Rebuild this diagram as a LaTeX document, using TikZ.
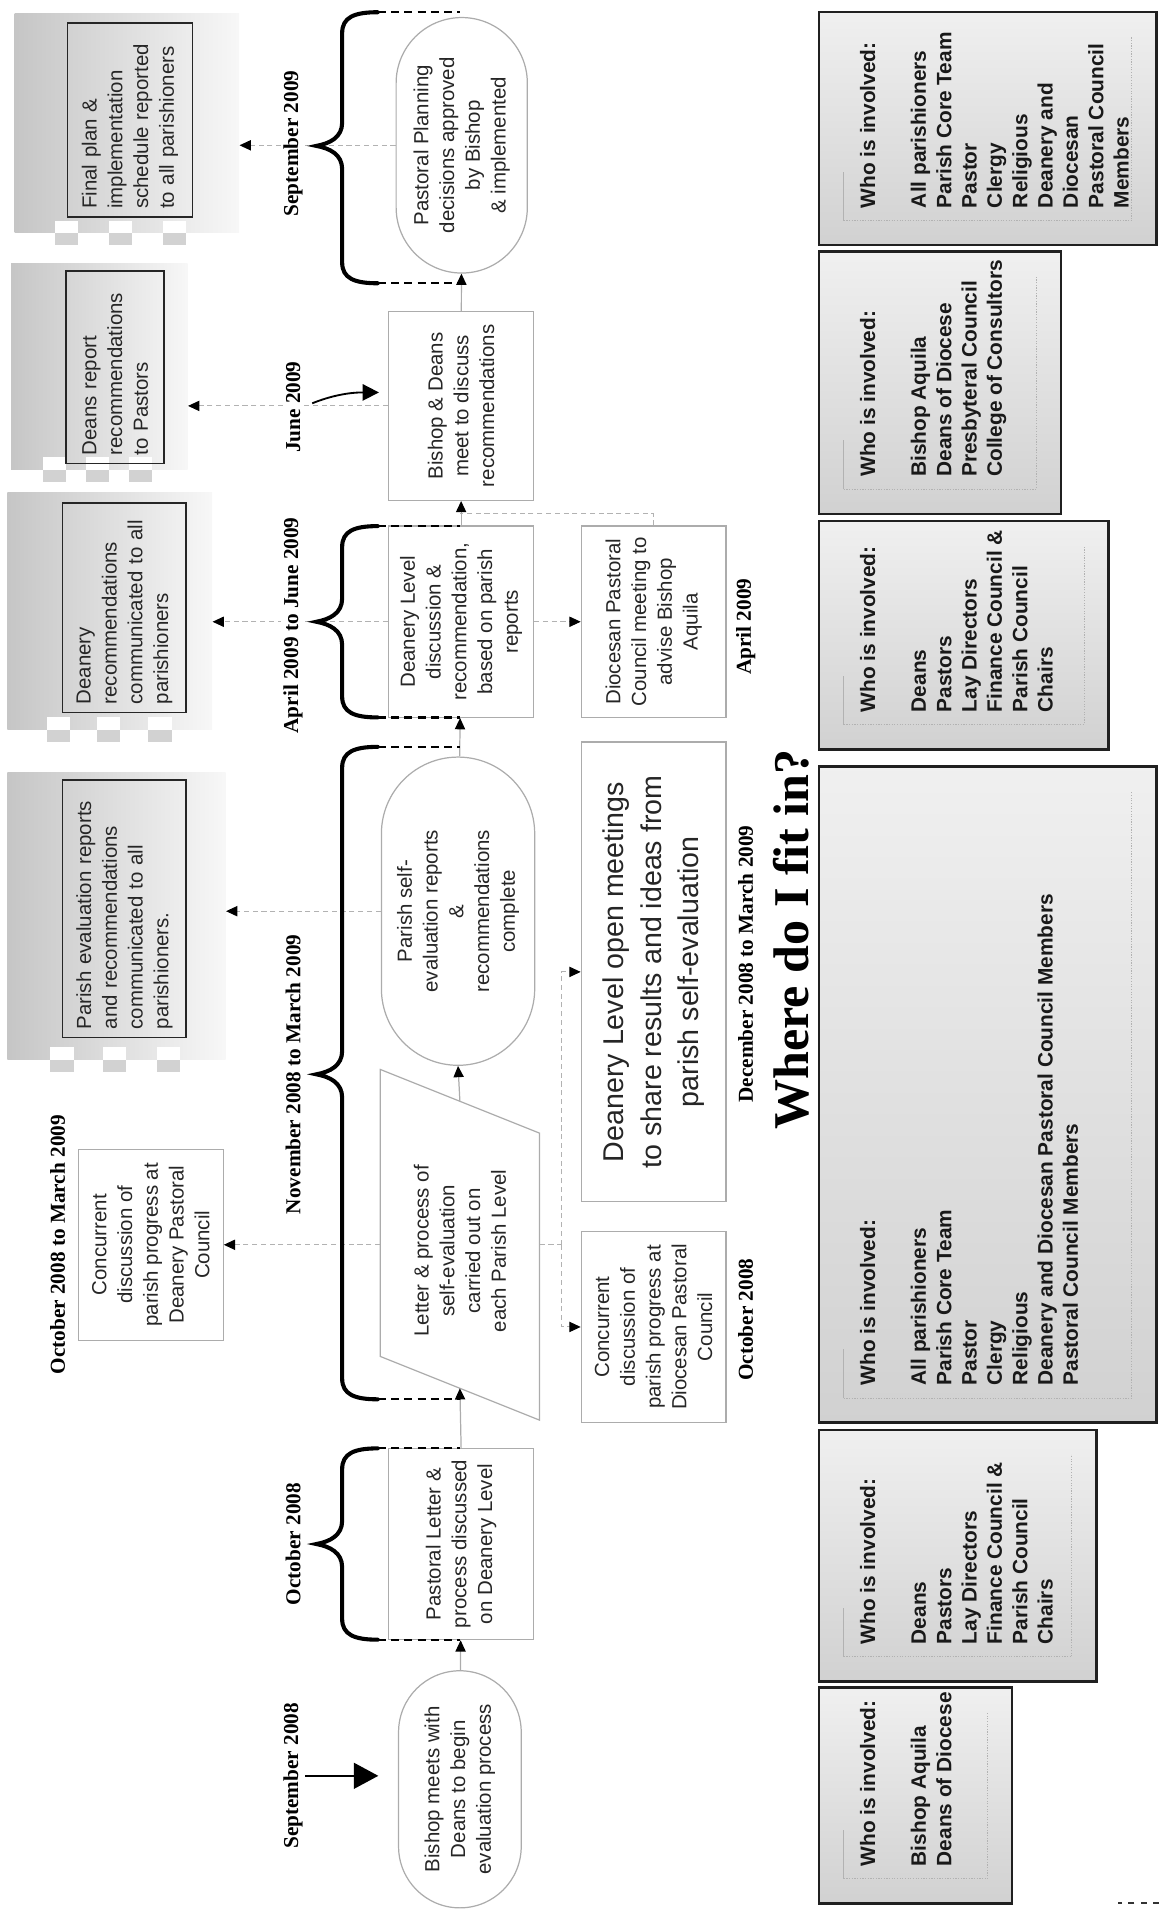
\documentclass[tikz,border=0pt]{standalone}
\usepackage{fontspec}
\setmainfont{Liberation Serif}
\setsansfont{Liberation Sans}
\usetikzlibrary{arrows.meta}
\usetikzlibrary{shapes.misc}
\usetikzlibrary{positioning}
\tikzset{flowbox/.style = {draw=gray!65, line width=0.6pt, fill=white, align=center,
                           inner sep=2pt, text=black!85,
                           font=\sffamily\fontsize{10}{12.6}\selectfont}}
\tikzset{flowrect/.style = {flowbox, rectangle, minimum width=93.6pt, minimum height=70.8pt}}
\tikzset{flowround/.style = {flowbox, rounded rectangle}}
\tikzset{datelbl/.style = {font=\bfseries\fontsize{10.4}{12}\selectfont, fill=white, inner sep=1pt}}
\tikzset{flowarrow/.style = {draw=gray!65, line width=0.6pt,
                             -{Triangle[length=5.5pt, width=5pt, color=black]}}}
\tikzset{dashline/.style = {draw=gray!60, line width=0.5pt, dash pattern=on 2.5pt off 1.8pt}}
\tikzset{dasharrow/.style = {dashline, -{Triangle[length=5.5pt, width=5pt, color=black]}}}
\tikzset{bigarrow/.style = {draw=black, line width=1.2pt, -{Triangle[length=12pt, width=12.6pt]}}}
\tikzset{junearrow/.style = {draw=black, line width=0.9pt, -{Triangle[length=8pt, width=8pt]}}}
\tikzset{bracestyle/.style = {draw=black, line width=2pt, line cap=round}}
\tikzset{bracedash/.style = {draw=black, line width=1.1pt, dash pattern=on 4pt off 2.5pt}}
\tikzset{panelbg/.style = {left color=gray!45, middle color=gray!30, right color=gray!6, inner sep=0}}
\tikzset{panelbox/.style = {draw=black!85, line width=0.9pt, align=left, inner xsep=4pt,
                            font=\sffamily\fontsize{10}{12.6}\selectfont, text=black!85}}
\tikzset{whobox/.style = {draw=gray!25!black, line width=1.2pt, top color=gray!12,
                          bottom color=gray!36, inner sep=0}}
\tikzset{whotext/.style = {anchor=north west, align=left, inner sep=0, text=black!90,
                           font=\sffamily\bfseries\fontsize{10.2}{12.4}\selectfont}}
\tikzset{whosolid/.style = {draw=gray!60, line width=0.6pt}}
\tikzset{whodots/.style = {draw=gray!60, line width=0.5pt, dash pattern=on 0.6pt off 0.7pt}}
\newcommand{\timebrace}[3]{%
  \draw[bracestyle] (#1,637) .. controls (#1,656) and (#1+4,666) .. (#1+17,666)
    -- (#3-19,666) .. controls (#3-7,666) and (#3-2,676) .. (#3,687)
    .. controls (#3+2,676) and (#3+7,666) .. (#3+19,666)
    -- (#2-17,666) .. controls (#2-4,666) and (#2,656) .. (#2,637);
  \draw[bracedash] (#1,637) -- (#1,570);
  \draw[bracedash] (#2,637) -- (#2,570);}

\begin{document}
\begin{tikzpicture}[x=0.6pt, y=0.6pt]
\begin{scope}[rotate=90, transform shape]
\useasboundingbox (0,0) rectangle (1568,945);

% communication panels
\node (p1) [panelbg, minimum width=107.4pt, minimum height=109.8pt] at (1467.5,841.5) {};
\node (p2) [panelbg, minimum width=100.8pt, minimum height=86.4pt] at (1269,864) {};
\node (p3) [panelbg, minimum width=115.8pt, minimum height=100.2pt] at (1069.5,855.5) {};
\node (p4) [panelbg, minimum width=140.4pt, minimum height=106.8pt] at (821,850) {};
\foreach \pl/\ya/\yb/\yc in {1378/881/837/793, 1185/891/856/821, 973/888/847/805, 704/885/842/798} {
  \foreach \sq in {\ya,\yb,\yc} {
    \fill[white] (\pl,\sq) rectangle ++(10,19);
    \fill[gray!35] (\pl-10,\sq) rectangle ++(10,19);
  }
}
\node (p1in) [panelbox, text width=86.8pt, minimum height=61.2pt] at (1470,839)
  {Final plan \&\\implementation\\schedule reported\\to all parishioners};
\node (p2in) [panelbox, text width=86.2pt, minimum height=48pt] at (1268.5,851)
  {Deans report\\recommendations\\to Pastors};
\node (p3in) [panelbox, text width=94.6pt, minimum height=60.6pt] at (1072.5,843.5)
  {Deanery\\recommendations\\communicated to all\\parishioners};
\node (p4in) [panelbox, text width=118pt, minimum height=60.6pt] at (827,843.5)
  {Parish evaluation reports\\and recommendations\\communicated to all\\parishioners.};

% who is involved
\node (who1) [whobox, minimum width=114pt, minimum height=165pt] at (1463,139.5) {};
\node (who2) [whobox, minimum width=128.4pt, minimum height=118.2pt] at (1256,178.5) {};
\node (who3) [whobox, minimum width=111.6pt, minimum height=141.6pt] at (1050,159) {};
\node (who4) [whobox, minimum width=321pt, minimum height=165pt] at (675.5,139.5) {};
\node (who5) [whobox, minimum width=123pt, minimum height=135.6pt] at (299.5,164) {};
\node (who6) [whobox, minimum width=105.6pt, minimum height=94.2pt] at (104,198.5) {};
\foreach \wl/\wr/\wb in {1368/1558/2, 1149/1363/80, 957/1143/41, 408/943/2, 197/402/51, 16/192/120} {
  \draw[whosolid] (\wl+20,257) -- (\wl+60,257);
  \draw[whodots] (\wl+20,257) -- (\wl+20,\wb+20) -- (\wr-20,\wb+20);
}
\node (who1txt) [whotext] at (1398,244) {Who is involved:\\[12.4pt]All parishioners\\Parish Core Team\\Pastor\\Clergy\\Religious\\Deanery and\\Diocesan\\Pastoral Council\\Members};
\node (who2txt) [whotext] at (1179,244) {Who is involved:\\[12.4pt]Bishop Aquila\\Deans of Diocese\\Presbyteral Council\\College of Consultors};
\node (who3txt) [whotext] at (987,244) {Who is involved:\\[12.4pt]Deans\\Pastors\\Lay Directors\\Finance Council \&\\Parish Council\\Chairs};
\node (who4txt) [whotext] at (438,244) {Who is involved:\\[12.4pt]All parishioners\\Parish Core Team\\Pastor\\Clergy\\Religious\\Deanery and Diocesan Pastoral Council Members\\Pastoral Council Members};
\node (who5txt) [whotext] at (227,244) {Who is involved:\\[12.4pt]Deans\\Pastors\\Lay Directors\\Finance Council \&\\Parish Council\\Chairs};
\node (who6txt) [whotext] at (46,244) {Who is involved:\\[12.4pt]Bishop Aquila\\Deans of Diocese};

% flow
\node (bishop) [flowround, minimum width=120pt, minimum height=60pt] at (109,570)
  {Bishop meets with\\Deans to begin\\evaluation process};
\node (pastoral) [flowrect] at (309,569)
  {Pastoral Letter \&\\process discussed\\on Deanery Level};
\node (parish) [flowround, minimum width=154.8pt, minimum height=75pt] at (825,571.5)
  {Parish self-\\evaluation reports\\\&\\recommendations\\complete};
\node (deanery) [flowrect] at (1061,569)
  {Deanery Level\\discussion \&\\recommendation,\\based on parish\\reports};
\node (bishopdeans) [flowrect, minimum width=92.4pt] at (1237,569)
  {Bishop \& Deans\\meet to discuss\\recommendations};
\node (planning) [flowround, minimum width=129pt, minimum height=64.2pt] at (1449.5,568.5)
  {Pastoral Planning\\decisions approved\\by Bishop\\\& implemented};
\node (diocesan) [flowrect] at (1061,412)
  {Diocesan Pastoral\\Council meeting to\\advise Bishop\\Aquila};
\node (openmeet) [flowrect, minimum width=225pt, font=\sffamily\fontsize{14}{18.5}\selectfont] at (775.5,412)
  {Deanery Level open meetings\\to share results and ideas from\\parish self-evaluation};
\node (concdio) [flowrect] at (486,412)
  {Concurrent\\discussion of\\parish progress at\\Diocesan Pastoral\\Council};
\node (concdeanery) [flowrect] at (553,822)
  {Concurrent\\discussion of\\parish progress at\\Deanery Pastoral\\Council};

\draw[draw=gray!65, line width=0.6pt, fill=white] (410,505) -- (644,505) -- (696,635) -- (462,635) -- cycle;
\node (letterpar) [font=\sffamily\fontsize{10}{12.6}\selectfont, align=center, text=black!85] at (548,570)
  {Letter \& process of\\self-evaluation\\carried out on\\each Parish Level};
\coordinate (lpin) at (436,570);
\coordinate (lpout) at (670,570);
\coordinate (lptop) at (553,635);
\coordinate (lpbot) at (553,505);
\coordinate (lpsplit) at (553,487);
\coordinate (diojoin) at (1149,570);
\coordinate (junetip) at (1248,636);

\draw[flowarrow] (bishop) -- (pastoral);
\draw[flowarrow] (pastoral.east) -- (lpin);
\draw[flowarrow] (lpout) -- (parish.west);
\draw[flowarrow] (parish) -- (deanery);
\draw[flowarrow] (deanery) -- (bishopdeans);
\draw[flowarrow] (bishopdeans) -- (planning);

\draw[dasharrow] (lptop) -- (concdeanery.south);
\draw[dashline] (lpbot) -- (lpsplit);
\draw[dasharrow] (lpsplit) -| (concdio.north);
\draw[dasharrow] (lpsplit) -| (openmeet.north);
\draw[dasharrow] (parish.north) -- (parish.north |- p4.south);
\draw[dasharrow] (deanery.north) -- (deanery.north |- p3.south);
\draw[dasharrow] (deanery.south) -- (diocesan.north);
\draw[dasharrow] (bishopdeans.north) -- (bishopdeans.north |- p2.south);
\draw[dasharrow] (planning.north) -- (planning.north |- p1.south);
\draw[dashline] (diocesan.east) -| (diojoin);

% time braces
\timebrace{231}{387}{309}
\timebrace{427}{959}{692}
\timebrace{983}{1139}{1061}
\timebrace{1337}{1558}{1449}

% dates
\node (sept08lbl) [datelbl] at (120,706) {September 2008};
\node (oct08lbl) [datelbl] at (309,706) {October 2008};
\node (novlbl) [datelbl] at (692,706) {November 2008 to March 2009};
\node (aprlbl) [datelbl] at (1058,706) {April 2009 to June 2009};
\node (junelbl) [datelbl] at (1236,706) {June 2009};
\node (sept09lbl) [datelbl] at (1451,706) {September 2009};
\node (octmarlbl) [datelbl] at (553,898) {October 2008 to March 2009};
\node (apr09lbl) [datelbl] at (1057,337) {April 2009};
\node (decmarlbl) [datelbl] at (782,337) {December 2008 to March 2009};
\node (oct08blbl) [datelbl] at (492,337) {October 2008};

\draw[bigarrow, shorten >=9.6pt] (sept08lbl.south) -- (sept08lbl.south |- bishop.north);
\draw[junearrow, shorten <=5pt] (junelbl.south) to[out=-68, in=90] (junetip);

\node (fitlbl) [anchor=base, font=\bfseries\fontsize{24.5}{28}\selectfont] at (802,286) {Where do I fit in?};
\draw[dashed, draw=gray!40!black, line width=1pt] (16,0) -- (16,33);
\end{scope}
\end{tikzpicture}
\end{document}
